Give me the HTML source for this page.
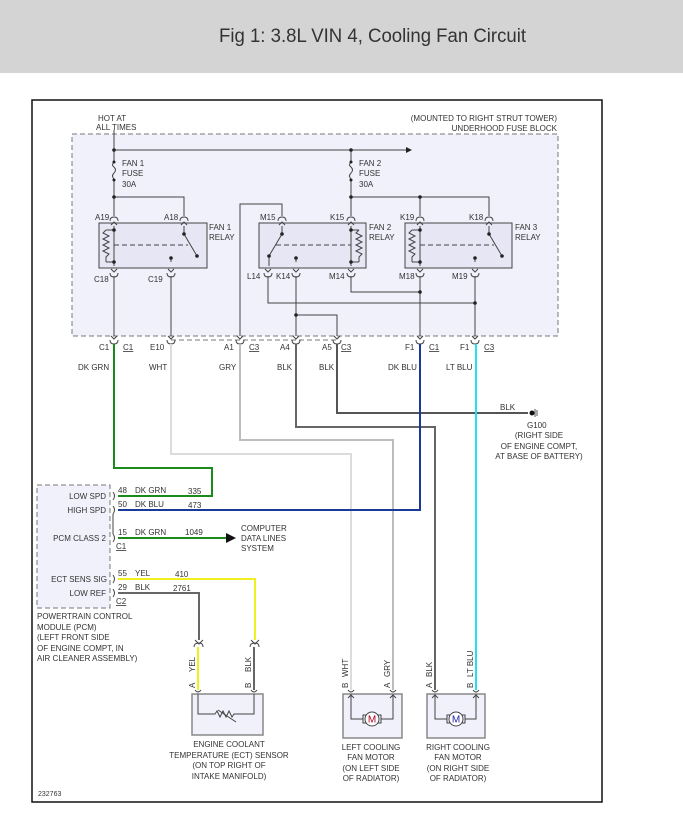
<!DOCTYPE html>
<html><head><meta charset="utf-8"><style>
html,body{margin:0;padding:0;background:#fff;}
svg{display:block;}
text{font-family:"Liberation Sans",sans-serif;font-size:8px;fill:#333;}
</style></head><body>
<svg width="683" height="825" viewBox="0 0 683 825" xmlns="http://www.w3.org/2000/svg">
<defs>
<g id="ct"><path d="M-4,3 Q-4,-1 0,-1 Q4,-1 4,3" fill="none" stroke="#444" stroke-width="1"/><path d="M-3,7 L0,4 L3,7" fill="none" stroke="#444" stroke-width="1"/></g>
<g id="cb"><path d="M-3,-4 L0,-1 L3,-4" fill="none" stroke="#444" stroke-width="1"/><path d="M-4,0 Q-4,4 0,4 Q4,4 4,0" fill="none" stroke="#444" stroke-width="1"/></g>
</defs>

<rect x="0" y="0" width="683" height="73" fill="#d4d4d4"/>
<text x="219" y="42" style="font-size:19px;fill:#333" textLength="307" lengthAdjust="spacingAndGlyphs">Fig 1: 3.8L VIN 4, Cooling Fan Circuit</text>

<rect x="32" y="100" width="570" height="702" fill="#fff" stroke="#111" stroke-width="1.5"/>

<rect x="72" y="134" width="486" height="202" fill="#f1f1fb" stroke="#777" stroke-width="1" stroke-dasharray="5,3"/>
<text x="98" y="121">HOT AT</text><text x="96" y="130">ALL TIMES</text>
<text x="557" y="121" text-anchor="end">(MOUNTED TO RIGHT STRUT TOWER)</text>
<text x="557" y="131" text-anchor="end">UNDERHOOD FUSE BLOCK</text>

<g stroke="#444" stroke-width="1" fill="none">
<path d="M114,130 V162 M114,180 V216"/>
<path d="M114,162 q-3,3 0,5 q3,3 0,6 q-3,3 0,6"/>
<path d="M114,150 H406"/>
<path d="M351,150 V162 M351,180 V216"/>
<path d="M351,162 q-3,3 0,5 q3,3 0,6 q-3,3 0,6"/>
<path d="M114,197 H184 V216"/>
<path d="M351,197 H489 V216 M420,197 V216"/>
<path d="M240,336 V204 H282 V216"/>
<path d="M114,276 V336 M171,276 V336"/>
<path d="M268,276 V303 H475 M296,276 V336 M351,276 V292 H420"/>
<path d="M420,276 V336 M475,276 V336"/>
<path d="M296,315 H337 V336"/>
</g>
<path d="M406,147 L412,150 L406,153 Z" fill="#222"/>
<g fill="#222">
<circle cx="114" cy="150" r="1.8"/><circle cx="351" cy="150" r="1.8"/>
<circle cx="114" cy="162" r="1.5"/><circle cx="114" cy="180" r="1.5"/>
<circle cx="351" cy="162" r="1.5"/><circle cx="351" cy="180" r="1.5"/>
<circle cx="114" cy="197" r="1.8"/><circle cx="351" cy="197" r="1.8"/><circle cx="420" cy="197" r="1.8"/>
<circle cx="420" cy="292" r="1.8"/><circle cx="475" cy="303" r="1.8"/><circle cx="296" cy="315" r="1.8"/>
</g>
<g fill="#444">
<text x="122" y="166">FAN 1</text><text x="122" y="176">FUSE</text><text x="122" y="187">30A</text>
<text x="359" y="166">FAN 2</text><text x="359" y="176">FUSE</text><text x="359" y="187">30A</text>
</g>

<g fill="#e6e6f4" stroke="#444" stroke-width="1">
<rect x="99" y="223" width="108" height="45"/>
<rect x="259" y="223" width="107" height="45"/>
<rect x="405" y="223" width="107" height="45"/>
</g>
<g>
<use href="#ct" x="114" y="218"/><use href="#ct" x="184" y="218"/>
<use href="#ct" x="282" y="218"/><use href="#ct" x="351" y="218"/>
<use href="#ct" x="420" y="218"/><use href="#ct" x="489" y="218"/>
<use href="#cb" x="114" y="273"/><use href="#cb" x="171" y="273"/>
<use href="#cb" x="268" y="273"/><use href="#cb" x="296" y="273"/><use href="#cb" x="351" y="273"/>
<use href="#cb" x="420" y="273"/><use href="#cb" x="475" y="273"/>
</g>
<g stroke="#444" stroke-width="1" fill="none">
<path d="M114,226 V266 M114,230 H106 M114,262 H106"/>
<path d="M106,230 l-3,3 l6,3 l-6,3 l6,3 l-6,3 l6,3 l-6,3 l6,3 l-3,3 V262"/>
<path d="M184,226 V234 L197,256 M171,262 V259"/>
<path d="M114,245 H188" stroke-dasharray="5,3"/>
<path d="M282,226 V234 L269,256 V266 M296,262 V259"/>
<path d="M351,226 V266 M351,230 H359 M351,262 H359"/>
<path d="M359,230 l-3,3 l6,3 l-6,3 l6,3 l-6,3 l6,3 l-6,3 l6,3 l-3,3 V262"/>
<path d="M276,245 H351" stroke-dasharray="5,3"/>
<path d="M420,226 V266 M420,230 H412 M420,262 H412"/>
<path d="M412,230 l-3,3 l6,3 l-6,3 l6,3 l-6,3 l6,3 l-6,3 l6,3 l-3,3 V262"/>
<path d="M489,226 V234 L502,256 M475,262 V259"/>
<path d="M420,245 H494" stroke-dasharray="5,3"/>
</g>
<g fill="#222">
<circle cx="114" cy="230" r="1.8"/><circle cx="114" cy="262" r="1.8"/><circle cx="184" cy="234" r="1.8"/><circle cx="197" cy="256" r="1.8"/><circle cx="171" cy="258" r="1.8"/>
<circle cx="282" cy="234" r="1.8"/><circle cx="269" cy="256" r="1.8"/><circle cx="296" cy="258" r="1.8"/><circle cx="351" cy="230" r="1.8"/><circle cx="351" cy="262" r="1.8"/>
<circle cx="420" cy="230" r="1.8"/><circle cx="420" cy="262" r="1.8"/><circle cx="489" cy="234" r="1.8"/><circle cx="502" cy="256" r="1.8"/><circle cx="475" cy="258" r="1.8"/>
</g>
<text x="209" y="230">FAN 1</text><text x="209" y="240">RELAY</text>
<text x="369" y="230">FAN 2</text><text x="369" y="240">RELAY</text>
<text x="515" y="230">FAN 3</text><text x="515" y="240">RELAY</text>
<g>
<text x="95" y="220">A19</text><text x="164" y="220">A18</text>
<text x="260" y="220">M15</text><text x="330" y="220">K15</text>
<text x="400" y="220">K19</text><text x="469" y="220">K18</text>
<text x="94" y="282">C18</text><text x="148" y="282">C19</text>
<text x="247" y="279">L14</text><text x="276" y="279">K14</text><text x="329" y="279">M14</text>
<text x="399" y="279">M18</text><text x="452" y="279">M19</text>
</g>

<path d="M171,340 H337" stroke="#777" stroke-dasharray="5,3" fill="none"/>
<g>
<use href="#cb" x="114" y="340"/><use href="#cb" x="171" y="340"/><use href="#cb" x="240" y="340"/>
<use href="#cb" x="296" y="340"/><use href="#cb" x="337" y="340"/><use href="#cb" x="420" y="340"/><use href="#cb" x="475" y="340"/>
</g>
<g>
<text x="123" y="350" text-decoration="underline">C1</text><text x="249" y="350" text-decoration="underline">C3</text>
<text x="341" y="350" text-decoration="underline">C3</text><text x="429" y="350" text-decoration="underline">C1</text><text x="484" y="350" text-decoration="underline">C3</text>
</g>
<text x="99" y="350">C1</text><text x="150" y="350">E10</text><text x="224" y="350">A1</text>
<text x="280" y="350">A4</text><text x="322" y="350">A5</text><text x="405" y="350">F1</text><text x="460" y="350">F1</text>
<text x="78" y="370">DK GRN</text><text x="149" y="370">WHT</text><text x="219" y="370">GRY</text>
<text x="277" y="370">BLK</text><text x="319" y="370">BLK</text><text x="388" y="370">DK BLU</text><text x="446" y="370">LT BLU</text>

<g fill="none" stroke-width="2">
<path d="M114,344 V468 H212 V496 H118" stroke="#1a8a1a"/>
<path d="M171,344 V454 H351 V690" stroke="#dcdcdc"/>
<path d="M240,344 V440 H393 V690" stroke="#bdbdbd"/>
<path d="M296,344 V427 H435 V690" stroke="#666"/>
<path d="M337,344 V413 H528" stroke="#555"/>
<path d="M420,344 V510 H118" stroke="#1a3a9a"/>
<path d="M476,344 V690" stroke="#22e0ee"/>
<path d="M118,538 H226" stroke="#1a8a1a"/>
<path d="M118,579 H255 V640" stroke="#f0f020"/>
<path d="M118,593 H199 V640" stroke="#666"/>
<path d="M198,647 V690" stroke="#f0f020"/>
<path d="M254,647 V690" stroke="#666"/>
</g>
<path d="M226,533 L236,538 L226,543 Z" fill="#111"/>
<circle cx="532" cy="413" r="2.5" fill="#111"/>
<path d="M535,409 V417 M537,410 V416" stroke="#555" stroke-width="1"/>
<text x="500" y="410">BLK</text>
<text x="527" y="428">G100</text>
<text x="539" y="438" text-anchor="middle">(RIGHT SIDE</text>
<text x="539" y="449" text-anchor="middle">OF ENGINE COMPT,</text>
<text x="539" y="459" text-anchor="middle">AT BASE OF BATTERY)</text>

<rect x="37" y="485" width="73" height="123" fill="#f1f1fb" stroke="#777" stroke-dasharray="5,3"/>
<g stroke="#444" fill="none">
<path d="M113,492 q3,4 0,8 M113,506 q3,4 0,8 M113,534 q3,4 0,8 M113,575 q3,4 0,8 M113,589 q3,4 0,8"/>
<path d="M113,514 V534"/>
</g>
<text x="106" y="499" text-anchor="end">LOW SPD</text>
<text x="106" y="513" text-anchor="end">HIGH SPD</text>
<text x="106" y="541" text-anchor="end">PCM CLASS 2</text>
<text x="107" y="582" text-anchor="end">ECT SENS SIG</text>
<text x="106" y="596" text-anchor="end">LOW REF</text>
<text x="118" y="493">48</text><text x="135" y="493">DK GRN</text><text x="188" y="494">335</text>
<text x="118" y="507">50</text><text x="135" y="507">DK BLU</text><text x="188" y="508">473</text>
<text x="118" y="535">15</text><text x="135" y="535">DK GRN</text><text x="185" y="535">1049</text>
<text x="116" y="549" text-decoration="underline">C1</text>
<text x="118" y="576">55</text><text x="135" y="576">YEL</text><text x="175" y="577">410</text>
<text x="118" y="590">29</text><text x="135" y="590">BLK</text><text x="173" y="591">2761</text>
<text x="116" y="604" text-decoration="underline">C2</text>
<text x="241" y="531">COMPUTER</text><text x="241" y="541">DATA LINES</text><text x="241" y="551">SYSTEM</text>
<text x="37" y="619">POWERTRAIN CONTROL</text>
<text x="37" y="630">MODULE (PCM)</text>
<text x="37" y="640">(LEFT FRONT SIDE</text>
<text x="37" y="651">OF ENGINE COMPT, IN</text>
<text x="37" y="661">AIR CLEANER ASSEMBLY)</text>

<g stroke="#444" fill="none">
<path d="M195,640 L199,644 L203,640 M194,647 Q194,643 199,643 Q203,643 203,647"/>
<path d="M251,640 L255,644 L259,640 M250,647 Q250,643 255,643 Q259,643 259,647"/>
</g>

<rect x="192" y="694" width="71" height="41" fill="#f1f1fb" stroke="#888" stroke-width="1.5"/>
<g stroke="#444" fill="none">
<path d="M198,694 V714 H215 l2,-3 l3,6 l3,-6 l3,6 l3,-6 l3,6 l2,-3 H254 V694"/>
<path d="M218,710 L236,722"/>
<path d="M195,690 Q198,694 201,690 M251,690 Q254,694 257,690"/>
</g>
<g transform="translate(195,672) rotate(-90)"><text x="0" y="0">YEL</text></g>
<g transform="translate(251,672) rotate(-90)"><text x="0" y="0">BLK</text></g>
<g transform="translate(195,688) rotate(-90)"><text x="0" y="0">A</text></g>
<g transform="translate(251,688) rotate(-90)"><text x="0" y="0">B</text></g>
<text x="229" y="747" text-anchor="middle">ENGINE COOLANT</text>
<text x="229" y="758" text-anchor="middle">TEMPERATURE (ECT) SENSOR</text>
<text x="229" y="768" text-anchor="middle">(ON TOP RIGHT OF</text>
<text x="229" y="779" text-anchor="middle">INTAKE MANIFOLD)</text>

<rect x="343" y="694" width="59" height="44" fill="#f1f1fb" stroke="#888" stroke-width="1.5"/>
<rect x="427" y="694" width="58" height="44" fill="#f1f1fb" stroke="#888" stroke-width="1.5"/>
<g stroke="#444" fill="none">
<path d="M351,694 V719 H363 M381,719 H393 V694 M348,698 L351,695 L354,698 M390,698 L393,695 L396,698"/>
<path d="M348,690 Q351,694 354,690 M390,690 Q393,694 396,690"/>
<rect x="363" y="715" width="3" height="8"/><rect x="378" y="715" width="3" height="8"/>
<circle cx="372" cy="719" r="7" fill="#fff"/>
<path d="M435,694 V719 H447 M465,719 H476 V694 M432,698 L435,695 L438,698 M473,698 L476,695 L479,698"/>
<path d="M432,690 Q435,694 438,690 M473,690 Q476,694 479,690"/>
<rect x="447" y="715" width="3" height="8"/><rect x="462" y="715" width="3" height="8"/>
<circle cx="456" cy="719" r="7" fill="#fff"/>
</g>
<text x="372" y="722.5" text-anchor="middle" style="font-size:10px;fill:#a02">M</text>
<text x="456" y="722.5" text-anchor="middle" style="font-size:10px;fill:#22a">M</text>
<g transform="translate(348,688) rotate(-90)"><text>B</text></g>
<g transform="translate(348,677) rotate(-90)"><text>WHT</text></g>
<g transform="translate(390,688) rotate(-90)"><text>A</text></g>
<g transform="translate(390,677) rotate(-90)"><text>GRY</text></g>
<g transform="translate(432,688) rotate(-90)"><text>A</text></g>
<g transform="translate(432,677) rotate(-90)"><text>BLK</text></g>
<g transform="translate(473,688) rotate(-90)"><text>B</text></g>
<g transform="translate(473,677) rotate(-90)"><text>LT BLU</text></g>
<text x="371" y="750" text-anchor="middle">LEFT COOLING</text>
<text x="371" y="760" text-anchor="middle">FAN MOTOR</text>
<text x="371" y="771" text-anchor="middle">(ON LEFT SIDE</text>
<text x="371" y="781" text-anchor="middle">OF RADIATOR)</text>
<text x="458" y="750" text-anchor="middle">RIGHT COOLING</text>
<text x="458" y="760" text-anchor="middle">FAN MOTOR</text>
<text x="458" y="771" text-anchor="middle">(ON RIGHT SIDE</text>
<text x="458" y="781" text-anchor="middle">OF RADIATOR)</text>

<text x="38" y="796" style="font-size:7px">232763</text>
</svg>
</body></html>
